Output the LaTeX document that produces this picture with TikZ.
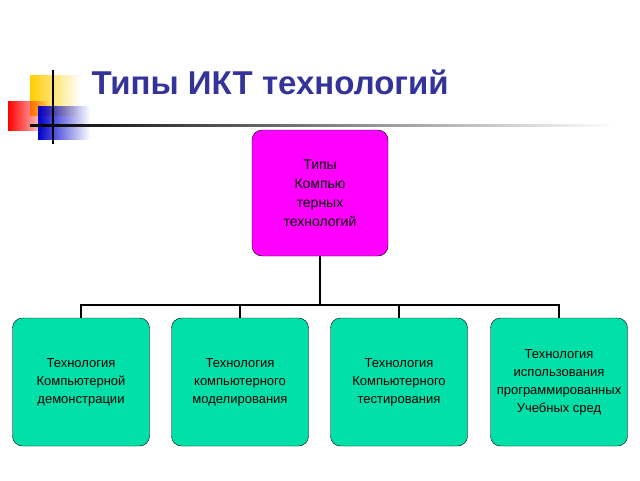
\documentclass[tikz,border=0pt]{standalone}
\usepackage{fontspec}
\setmainfont{Liberation Sans}
\usetikzlibrary{fadings}
\definecolor{decoyellow}{RGB}{255,204,0}
\definecolor{titleblue}{RGB}{51,51,153}
\definecolor{topfill}{RGB}{255,0,255}
\definecolor{boxfill}{RGB}{0,224,168}
\begin{document}
\begin{tikzpicture}[x=1pt,y=-1pt,
  box/.style={draw=black,rounded corners=10pt,align=center,font=\fontsize{13}{18}\selectfont,inner sep=0pt},
  conn/.style={draw=black,line width=1.6pt}]
\useasboundingbox (0,0) rectangle (640,480);
% decoration
\fill[decoyellow,path fading=east] (30,75) rectangle (80,116);
\fill[red,path fading=east] (8,101) rectangle (50,131);
\fill[blue!80!black,path fading=east] (38,106) rectangle (90,140);
\draw[line width=1.2pt] (53,70) -- (53,144);
\shade[left color=black,right color=white] (30,124) rectangle (615,126.5);
\node[anchor=west,font=\bfseries\fontsize{33}{36}\selectfont,text=titleblue] (title) at (88,82) {Типы ИКТ технологий};
% nodes
\node[box,font=\fontsize{14}{19}\selectfont,fill=topfill,minimum width=136pt,minimum height=126pt] (top) at (320,193) {Типы\\Компью\\терных \\ технологий};
\foreach \n/\x/\t in {a/81/{Технология\\Компьютерной\\демонстрации},b/240/{Технология\\компьютерного\\моделирования},c/399/{Технология\\Компьютерного\\тестирования},d/559/{Технология\\использования\\программированных\\Учебных сред}}{
  \node[box,fill=boxfill,minimum width=137pt,minimum height=128pt] (\n) at (\x,382) {\t};
}
\coordinate (j) at (320,305);
\draw[conn] (top.south) -- (j);
\draw[conn] (a.north) |- (j) -| (d.north);
\draw[conn] (b.north) -- (b.north |- j);
\draw[conn] (c.north) -- (c.north |- j);
\end{tikzpicture}
\end{document}
